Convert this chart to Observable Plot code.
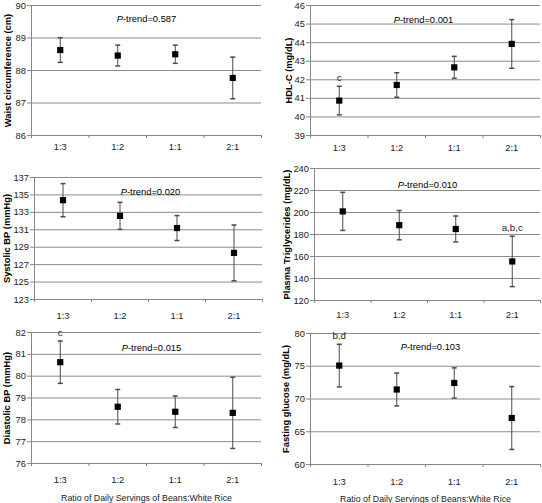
<!DOCTYPE html>
<html><head><meta charset="utf-8">
<script src="https://cdn.jsdelivr.net/npm/d3@7"></script>
<script src="https://cdn.jsdelivr.net/npm/@observablehq/plot@0.6"></script>
<style>
html,body{margin:0;padding:0;background:#fff;}
#chart{position:relative;width:542px;height:503px;overflow:hidden;background:#fff;}
#chart svg{position:absolute;overflow:visible;}
</style></head><body><div id="chart"></div>
<script>
// ---- data ----
const categories = ["1:3", "1:2", "1:1", "2:1"];
const xTitle = "Ratio of Daily Servings of Beans:White Rice";

const waistLabel = "Waist circumference (cm)";
const waistMean = [88.63, 88.46, 88.50, 87.77];
const waistErr = [0.38, 0.32, 0.28, 0.64];
const waistTicks = [86, 87, 88, 89, 90];
const waistNotes = ["", "", "", ""];
const waistP = "0.587";

const hdlLabel = "HDL-C (mg/dL)";
const hdlMean = [40.88, 41.72, 42.67, 43.93];
const hdlErr = [0.77, 0.66, 0.59, 1.31];
const hdlTicks = [39, 40, 41, 42, 43, 44, 45, 46];
const hdlNotes = ["c", "", "", ""];
const hdlP = "0.001";

const sbpLabel = "Systolic BP (mmHg)";
const sbpMean = [134.4, 132.6, 131.2, 128.35];
const sbpErr = [1.9, 1.55, 1.43, 3.2];
const sbpTicks = [123, 125, 127, 129, 131, 133, 135, 137];
const sbpNotes = ["", "", "", ""];
const sbpP = "0.020";

const tgLabel = "Plasma Triglycerides (mg/dL)";
const tgMean = [201, 188.5, 185, 155.5];
const tgErr = [17.3, 13.3, 11.8, 22.9];
const tgTicks = [120, 140, 160, 180, 200, 220, 240];
const tgNotes = ["", "", "", "a,b,c"];
const tgP = "0.010";

const dbpLabel = "Diastolic BP (mmHg)";
const dbpMean = [80.64, 78.60, 78.37, 78.32];
const dbpErr = [0.97, 0.79, 0.72, 1.63];
const dbpTicks = [76, 77, 78, 79, 80, 81, 82];
const dbpNotes = ["c", "", "", ""];
const dbpP = "0.015";

const gluLabel = "Fasting glucose (mg/dL)";
const gluMean = [75.1, 71.45, 72.45, 67.1];
const gluErr = [3.25, 2.5, 2.3, 4.8];
const gluTicks = [60, 65, 70, 75, 80];
const gluNotes = ["b,d", "", "", ""];
const gluP = "0.103";

// ---- font choice (narrow font if installed), sized to the reference text widths ----
const cnv = document.createElement("canvas").getContext("2d");
function installed(name) {
  const s = "mmmmmmmmlli10WQ";
  cnv.font = `20px monospace`; const a = cnv.measureText(s).width;
  cnv.font = `20px '${name}', monospace`; const b = cnv.measureText(s).width;
  cnv.font = `20px serif`; const c = cnv.measureText(s).width;
  cnv.font = `20px '${name}', serif`; const d = cnv.measureText(s).width;
  return a !== b || c !== d;
}
const family = installed("Liberation Sans Narrow") ? "Liberation Sans Narrow" : "Liberation Sans";
const FONT = `'${family}', 'Liberation Sans', Arial, sans-serif`;
cnv.font = `10px ${FONT}`;
const fit = Math.min(1.05, 59.5 / cnv.measureText("P-trend=0.587").width);
const FS = s => (s * fit).toFixed(2) + "px";

const GRID = "#8c8c8c";
const AXIS = "#868686";
const ERR = "#4a4a4a";

const panels = [
  {label: waistLabel, mean: waistMean, err: waistErr, ticks: waistTicks, notes: waistNotes, p: waistP,
   left: 0, top: 0, width: 271, height: 160, mL: 31, mR: 10, mT: 5, mB: 25, labDx: -24, pDx: 0, pDy: 10, xGap: 12, title: false},
  {label: hdlLabel, mean: hdlMean, err: hdlErr, ticks: hdlTicks, notes: hdlNotes, p: hdlP,
   left: 271, top: 0, width: 271, height: 160, mL: 39, mR: 2, mT: 5, mB: 25, labDx: -22, pDx: -2, pDy: 11, xGap: 12.7, title: false},
  {label: sbpLabel, mean: sbpMean, err: sbpErr, ticks: sbpTicks, notes: sbpNotes, p: sbpP,
   left: 0, top: 160, width: 271, height: 165, mL: 34, mR: 9, mT: 17, mB: 26, labDx: -27.5, pDx: 2, pDy: 10.7, xGap: 17, title: false},
  {label: tgLabel, mean: tgMean, err: tgErr, ticks: tgTicks, notes: tgNotes, p: tgP,
   left: 271, top: 160, width: 271, height: 165, mL: 43, mR: 2, mT: 8, mB: 25, labDx: -28, pDx: 0, pDy: 12.7, xGap: 15, title: false},
  {label: dbpLabel, mean: dbpMean, err: dbpErr, ticks: dbpTicks, notes: dbpNotes, p: dbpP,
   left: 0, top: 325, width: 271, height: 178, mL: 31, mR: 10, mT: 7, mB: 40, labDx: -25, pDx: 5, pDy: 12, xGap: 17, title: true},
  {label: gluLabel, mean: gluMean, err: gluErr, ticks: gluTicks, notes: gluNotes, p: gluP,
   left: 271, top: 325, width: 271, height: 178, mL: 39, mR: 2, mT: 8, mB: 39, labDx: -25, pDx: 5, pDy: 10, xGap: 17.3, title: true}
];

const capSymbol = {draw(ctx) { ctx.moveTo(-2.5, 0); ctx.lineTo(2.5, 0); }};

const root = document.getElementById("chart");

for (const cfg of panels) {
  const rows = categories.map((c, i) => ({
    cat: c, x: i + 0.5, mean: cfg.mean[i],
    lo: cfg.mean[i] - cfg.err[i], hi: cfg.mean[i] + cfg.err[i], note: cfg.notes[i]
  }));
  const t = cfg.ticks;
  const marks = [
    Plot.gridY(t.slice(1), {stroke: GRID, strokeOpacity: 1}),
    Plot.ruleY([t[0]], {stroke: AXIS}),
    Plot.ruleX([0], {stroke: AXIS}),
    Plot.axisY({ticks: t, tickSize: 4, tickPadding: 1.5, stroke: AXIS, fill: "#222", label: null, tickFormat: d => String(d), fontSize: FS(10)}),
    Plot.axisX({ticks: [0, 1, 2, 3, 4], tickSize: 3, stroke: AXIS, tickFormat: () => "", label: null}),
    Plot.axisX({ticks: categories.map((c, i) => i + 0.5), tickSize: 0, tickPadding: cfg.xGap - 3.8,
      tickFormat: d => categories[Math.floor(d)], fill: "#222", label: null, fontSize: FS(10)}),
    Plot.ruleX(rows, {x: "x", y1: "lo", y2: "hi", stroke: ERR}),
    Plot.dot(rows, {x: "x", y: "hi", symbol: capSymbol, stroke: ERR, fill: "none"}),
    Plot.dot(rows, {x: "x", y: "lo", symbol: capSymbol, stroke: ERR, fill: "none"}),
    Plot.dot(rows, {x: "x", y: "mean", symbol: "square", r: 3.5, fill: "#000", stroke: "none"}),
    Plot.text(rows.filter(d => d.note), {x: "x", y: "hi", text: "note", dy: -8, fontSize: FS(10.5), fill: "#222"}),
    Plot.text([`P-trend=${cfg.p}`], {frameAnchor: "top", textAnchor: "middle", dx: cfg.pDx, dy: cfg.pDy, fontSize: FS(10), fill: "#000"}),
    Plot.text([cfg.label], {frameAnchor: "left", textAnchor: "middle", lineAnchor: "middle", rotate: -90, dx: cfg.labDx, fontSize: FS(10), fontWeight: "bold", fill: "#000"})
  ];
  if (cfg.title) {
    marks.push(Plot.text([xTitle], {frameAnchor: "bottom", textAnchor: "middle", lineAnchor: "middle", dy: 34.7, fontSize: FS(9.4), fill: "#222"}));
  }
  const svg = Plot.plot({
    width: cfg.width, height: cfg.height,
    marginLeft: cfg.mL, marginRight: cfg.mR, marginTop: cfg.mT, marginBottom: cfg.mB,
    x: {domain: [0, 4]},
    y: {domain: [t[0], t[t.length - 1]]},
    style: {fontFamily: FONT, fontSize: FS(10), background: "transparent", color: "#222", overflow: "visible"},
    marks
  });
  svg.style.left = cfg.left + "px";
  svg.style.top = cfg.top + "px";
  svg.querySelectorAll("text").forEach(el => {
    if (el.textContent.startsWith("P-trend")) {
      const rest = el.textContent.slice(1);
      el.textContent = "";
      const ns = "http://www.w3.org/2000/svg";
      const a = document.createElementNS(ns, "tspan");
      a.setAttribute("font-style", "italic");
      a.textContent = "P";
      const b = document.createElementNS(ns, "tspan");
      b.textContent = rest;
      el.appendChild(a); el.appendChild(b);
    }
  });
  root.appendChild(svg);
}
</script></body></html>
